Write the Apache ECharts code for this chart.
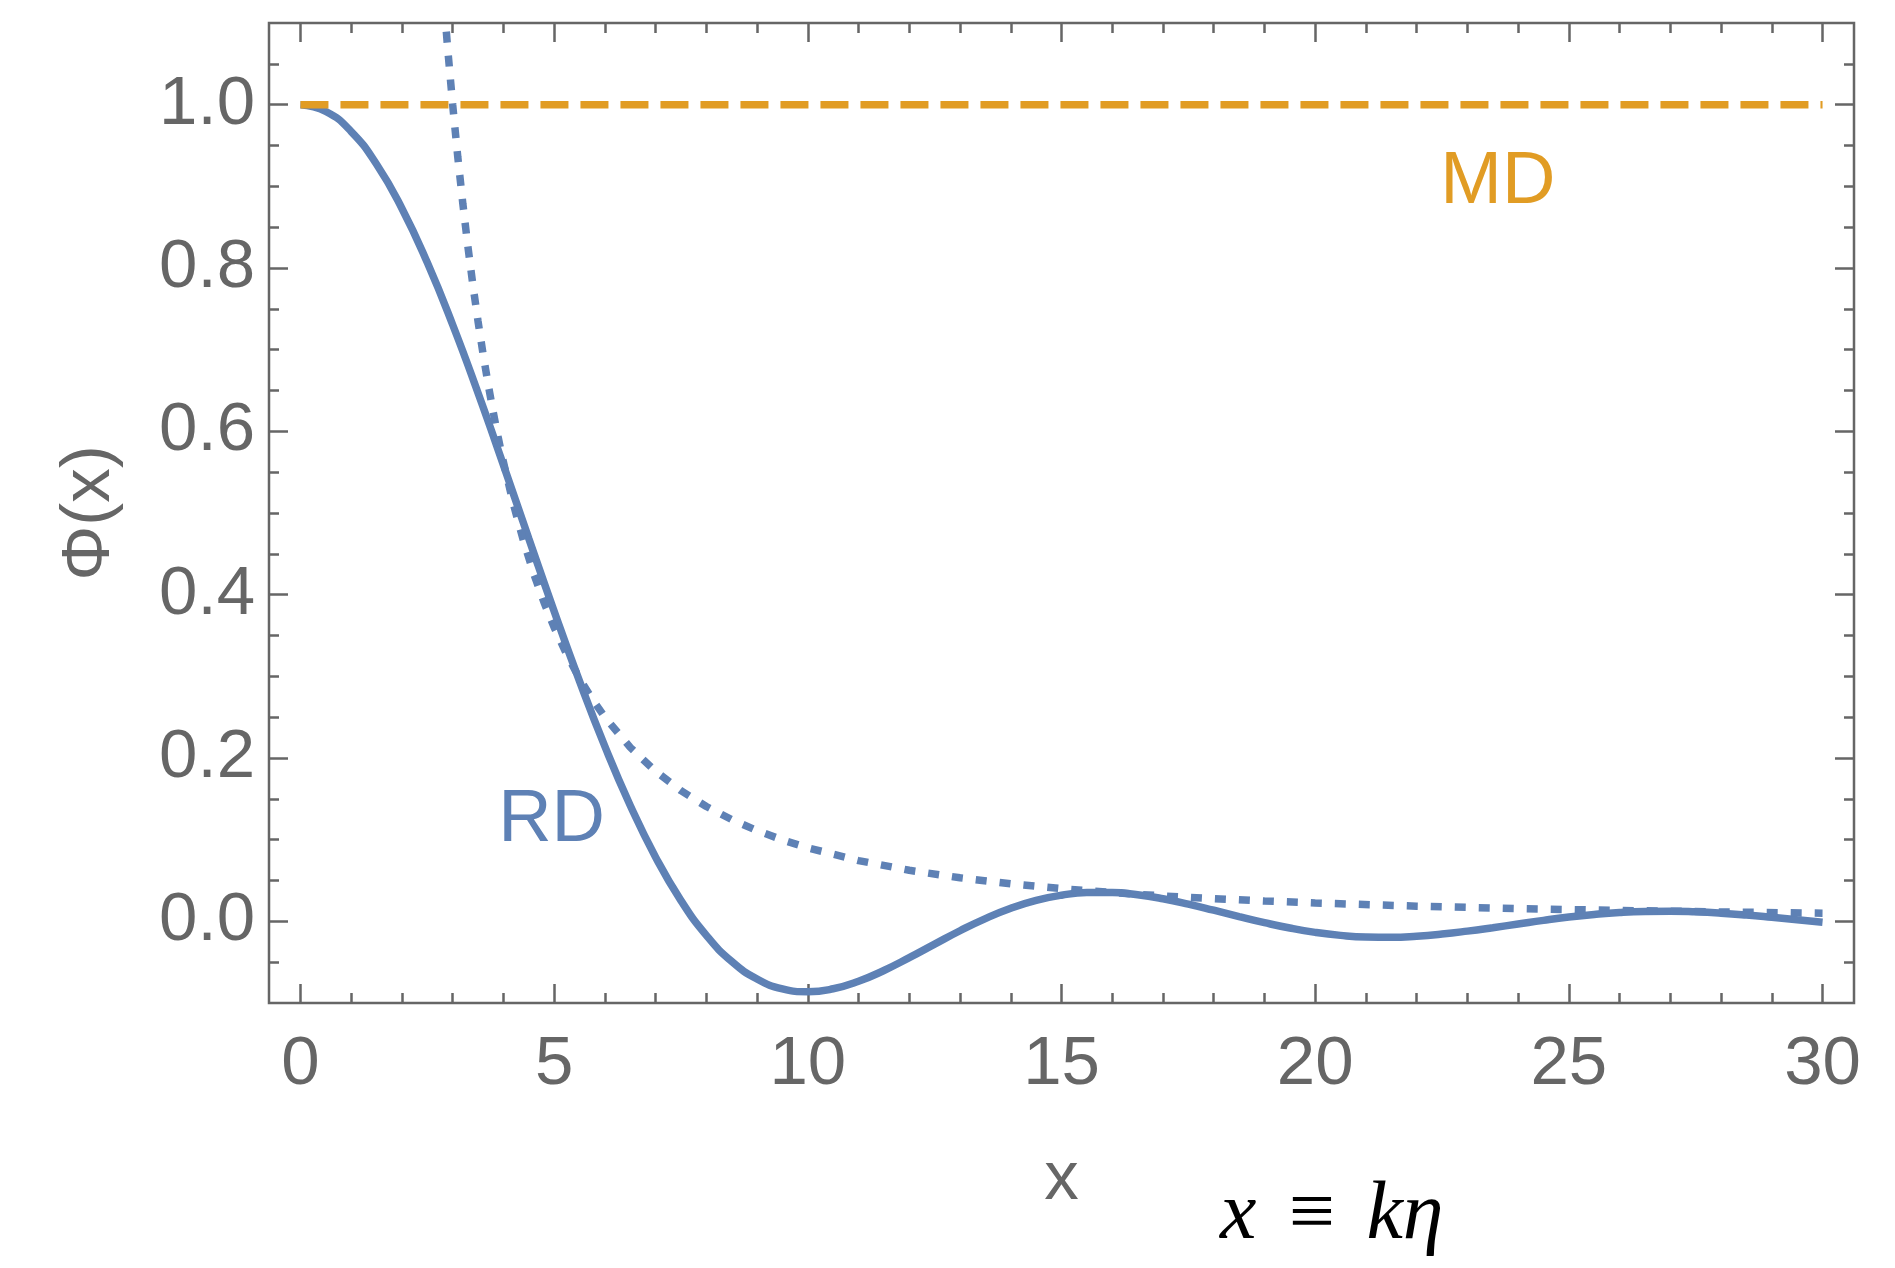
<!DOCTYPE html>
<html>
<head>
<meta charset="utf-8">
<style>
html, body {
  margin: 0;
  padding: 0;
  background: #fff;
}
#chart {
  width: 1895px;
  height: 1268px;
}
</style>
<script src="https://cdn.jsdelivr.net/npm/echarts@6/dist/echarts.min.js"></script>
</head>
<body>
<div id="chart"></div>
<script>
// RD: solid curve, sampled every 0.5 in x
const rdX = [0, 0.5, 1, 1.5, 2, 2.5, 3, 3.5, 4, 4.5, 5, 5.5, 6, 6.5, 7, 7.5, 8, 8.5, 9, 9.5,
  10, 10.5, 11, 11.5, 12, 12.5, 13, 13.5, 14, 14.5, 15, 15.5, 16, 16.5, 17, 17.5, 18, 18.5, 19, 19.5,
  20, 20.5, 21, 21.5, 22, 22.5, 23, 23.5, 24, 24.5, 25, 25.5, 26, 26.5, 27, 27.5, 28, 28.5, 29, 29.5, 30]
const rdY = [1.0, 0.9917, 0.9671, 0.9270, 0.8729, 0.8066, 0.7305, 0.6469, 0.5588, 0.4689,
  0.3798, 0.2942, 0.2142, 0.1419, 0.0786, 0.0254, -0.0172, -0.0491, -0.0706, -0.0826,
  -0.0862, -0.0826, -0.0734, -0.0602, -0.0445, -0.0279, -0.0115, 0.0034, 0.0160, 0.0257,
  0.0320, 0.0352, 0.0353, 0.0325, 0.0276, 0.0211, 0.0136, 0.0058, -0.0016, -0.0082,
  -0.0135, -0.0172, -0.0192, -0.0195, -0.0182, -0.0156, -0.0120, -0.0078, -0.0033, 0.0012,
  0.0052, 0.0084, 0.0108, 0.0121, 0.0124, 0.0116, 0.0100, 0.0077, 0.0049, 0.0019, -0.0010]

// dotted large-x approximation
const tailX = [2.8, 2.9, 3.0, 3.1, 3.2, 3.3, 3.4, 3.5, 3.6, 3.7, 3.8, 3.9, 4.0, 4.2, 4.4, 4.6, 4.8,
  5.0, 5.25, 5.5, 5.75, 6, 6.5, 7, 7.5, 8, 8.5, 9, 9.5, 10, 11, 12, 13, 14, 15, 16, 17, 18, 19,
  20, 22, 24, 26, 28, 30]
const tailY = [1.148, 1.070, 1.0, 0.9365, 0.8789, 0.8264, 0.7785, 0.7347, 0.6944, 0.6574, 0.6233,
  0.5917, 0.5625, 0.5102, 0.4649, 0.4253, 0.3906, 0.36, 0.3265, 0.2975, 0.2722, 0.25, 0.2130,
  0.1837, 0.16, 0.1406, 0.1246, 0.1111, 0.0997, 0.09, 0.0744, 0.0625, 0.0533, 0.0459, 0.04,
  0.0352, 0.0311, 0.0278, 0.0249, 0.0225, 0.0186, 0.0156, 0.0133, 0.0115, 0.01]

// MD: flat line
const mdX = [0, 30]
const mdY = [1, 1]

// curve labels [name, x, y]
const curveLabels = [['MD', 23.6, 0.905], ['RD', 4.95, 0.123]]

const xMajor = [0, 5, 10, 15, 20, 25, 30]
const xMinor = [1, 2, 3, 4, 6, 7, 8, 9, 11, 12, 13, 14, 16, 17, 18, 19, 21, 22, 23, 24, 26, 27, 28, 29]
const yMajor = [0, 0.2, 0.4, 0.6, 0.8, 1.0]
const yMinor = [-0.05, 0.05, 0.1, 0.15, 0.25, 0.3, 0.35, 0.45, 0.5, 0.55, 0.65, 0.7, 0.75,
  0.85, 0.9, 0.95, 1.05]

const BLUE = '#5E81B5'
const ORANGE = '#E19C24'
const GRAY = '#666666'
const FONT = 'Liberation Sans'

const zip = (xs, ys) => xs.map((x, i) => [x, ys[i]])

function makeAxis (kind, position, ticks, len, labels) {
  const ax = {
    type: 'value',
    position,
    min: kind === 'x' ? -0.62 : -0.1,
    max: kind === 'x' ? 30.62 : 1.1,
    axisLine: { show: false, onZero: false },
    splitLine: { show: false },
    axisTick: {
      show: true,
      inside: true,
      length: len,
      customValues: ticks,
      lineStyle: { color: GRAY, width: 2.5 }
    },
    axisLabel: { show: false }
  }
  if (labels) {
    ax.axisLabel = {
      show: true,
      customValues: ticks,
      color: GRAY,
      fontFamily: FONT,
      fontSize: 69,
      margin: kind === 'x' ? 27 : 14,
      formatter: v => kind === 'x' ? String(v) : v.toFixed(1)
    }
  }
  return ax
}

const chart = echarts.init(document.getElementById('chart'))

const xAxes = [
  makeAxis('x', 'bottom', xMajor, 19, true),
  makeAxis('x', 'bottom', xMinor, 10, false),
  makeAxis('x', 'top', xMajor, 19, false),
  makeAxis('x', 'top', xMinor, 10, false)
]
xAxes[0].name = 'x'
xAxes[0].nameLocation = 'middle'
xAxes[0].nameGap = 142
xAxes[0].nameTextStyle = { color: GRAY, fontFamily: FONT, fontSize: 69 }

const yAxes = [
  makeAxis('y', 'left', yMajor, 19, true),
  makeAxis('y', 'left', yMinor, 10, false),
  makeAxis('y', 'right', yMajor, 19, false),
  makeAxis('y', 'right', yMinor, 10, false)
]
yAxes[0].name = 'Φ(x)'
yAxes[0].nameLocation = 'middle'
yAxes[0].nameRotate = 90
yAxes[0].nameGap = 145
yAxes[0].nameTextStyle = { color: GRAY, fontFamily: FONT, fontSize: 69 }

const option = {
  animation: false,
  backgroundColor: '#ffffff',
  grid: {
    left: 269,
    right: 41,
    top: 23,
    bottom: 265,
    show: true,
    borderColor: GRAY,
    borderWidth: 2.5
  },
  xAxis: xAxes,
  yAxis: yAxes,
  graphic: [{
    type: 'text',
    left: 1220,
    top: 1175,
    style: {
      text: 'x\u2004≡\u2004kη',
      fontFamily: 'Liberation Serif',
      fontStyle: 'italic',
      fontSize: 82,
      fill: '#000000'
    }
  }],
  series: [
    {
      name: 'RD',
      type: 'line',
      data: zip(rdX, rdY),
      smooth: true,
      showSymbol: false,
      lineStyle: { color: BLUE, width: 7.5 }
    },
    {
      name: 'MD',
      type: 'line',
      data: zip(mdX, mdY),
      showSymbol: false,
      lineStyle: { color: ORANGE, width: 7.5, type: [28, 12] }
    },
    {
      name: 'tail',
      type: 'line',
      data: zip(tailX, tailY),
      showSymbol: false,
      lineStyle: { color: BLUE, width: 7.5, type: [11, 13] }
    },
    {
      type: 'scatter',
      silent: true,
      symbolSize: 2,
      itemStyle: { color: 'rgba(0,0,0,0)', opacity: 1 },
      data: curveLabels.map(l => ({
        name: l[0],
        value: [l[1], l[2]],
        label: { color: l[0] === 'MD' ? ORANGE : BLUE }
      })),
      label: {
        show: true,
        position: 'inside',
        formatter: '{b}',
        fontFamily: FONT,
        fontSize: 74
      }
    }
  ]
}

chart.setOption(option)
</script>
</body>
</html>
